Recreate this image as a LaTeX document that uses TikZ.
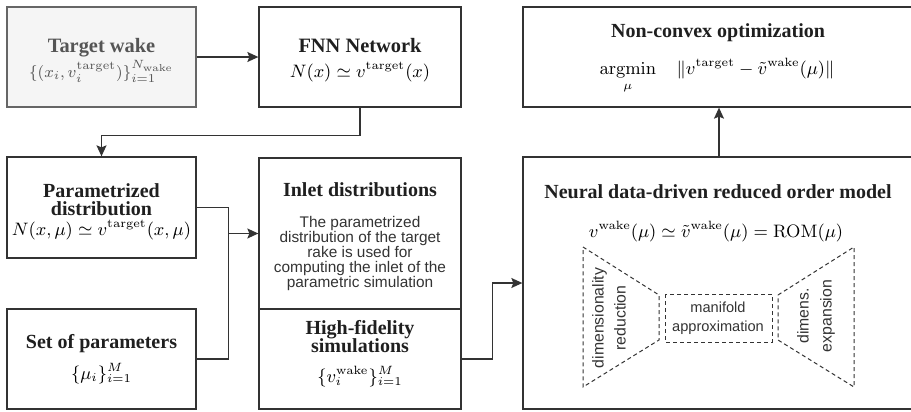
\documentclass[tikz,border=0pt]{standalone}
\usepackage{amsmath}
\usepackage[no-math]{fontspec}
\setmainfont{Liberation Serif}
\setsansfont{Liberation Sans}
\usetikzlibrary{arrows.meta}
\definecolor{edgec}{HTML}{333333}
\definecolor{fadedfill}{HTML}{F5F5F5}
\definecolor{fadededge}{HTML}{666666}
\definecolor{fadedtext}{HTML}{555555}
\definecolor{bodytext}{HTML}{333333}
\newcommand{\tsz}[1]{\fontsize{#1}{9}\selectfont\bfseries}
\newcommand{\msz}[1]{\fontsize{#1}{12}\selectfont}
\tikzset{
  box/.style={draw=edgec, line width=0.65pt, inner sep=0pt},
  ttl/.style={anchor=base, inner sep=0pt, font=\tsz{10}, text=black!88},
  mth/.style={anchor=base, inner sep=0pt, font=\msz{8.8}},
  body/.style={inner sep=0pt, align=center, text=bodytext, font=\sffamily\fontsize{7.7}{7.5}\selectfont},
  arr/.style={draw=edgec, line width=0.65pt, -{Stealth[length=5.5pt,width=5pt,inset=1pt]}},
  conn/.style={draw=edgec, line width=0.65pt},
  dsh/.style={draw=bodytext, line width=0.5pt, dash pattern=on 2pt off 1.5pt}
}
\begin{document}
\begin{tikzpicture}[x=0.5pt,y=-0.5pt]
\useasboundingbox (0,0) rectangle (911,412);
% boxes
\node[box, fill=fadedfill, draw=fadededge, minimum width=94.5pt, minimum height=50pt] (tw) at (101.5,57) {};
\node[box, minimum width=101pt, minimum height=50pt] (fnn) at (360,57) {};
\node[box, minimum width=94.5pt, minimum height=50.5pt] (pd) at (101.5,207.5) {};
\node[box, minimum width=101pt, minimum height=75.5pt] (inl) at (360,233.5) {};
\node[box, minimum width=101pt, minimum height=50pt] (hf) at (360,359) {};
\node[box, minimum width=94.5pt, minimum height=50pt] (sp) at (101.5,359) {};
\node[box, minimum width=196pt, minimum height=50pt] (nc) at (719,57) {};
\node[box, minimum width=196pt, minimum height=126pt] (rom) at (719,283) {};
% texts
\node[ttl, text=fadedtext, font=\tsz{10.2}] (twt) at (101.5,52) {Target wake};
\node[mth, text=fadedtext, font=\msz{8.3}] (twm) at (101.5,77) {$\{(x_i, v_i^{\mathrm{target}})\}_{i=1}^{N_{\mathrm{wake}}}$};
\node[ttl, font=\tsz{10.2}] (fnnt) at (360,52) {FNN Network};
\node[mth, font=\msz{8.6}] (fnnm) at (360,77) {$N(x) \simeq v^{\mathrm{target}}(x)$};
\node[ttl] (pdt1) at (101.5,197) {Parametrized};
\node[ttl] (pdt2) at (101.5,215) {distribution};
\node[mth] (pdm) at (101.5,235) {$N(x,\mu) \simeq v^{\mathrm{target}}(x,\mu)$};
\node[ttl] (inlt) at (360,196) {Inlet distributions};
\node[body] (inlb) at (360,254) {The parametrized\\distribution of the target\\rake is used for\\computing the inlet of the\\parametric simulation};
\node[ttl] (hft1) at (360,334) {High-fidelity};
\node[ttl] (hft2) at (360,352) {simulations};
\node[mth, font=\msz{9.2}] (hfm) at (360,382) {$\{v_i^{\mathrm{wake}}\}_{i=1}^{M}$};
\node[ttl] (spt) at (101.5,348) {Set of parameters};
\node[mth, font=\msz{9.2}] (spm) at (101.5,379) {$\{\mu_i\}_{i=1}^{M}$};
\node[ttl] (nct) at (718,37) {Non-convex optimization};
\node[mth, font=\msz{8.7}] (ncm) at (717,75) {$\displaystyle \mathop{\mathrm{argmin}}_{\mu}\quad \|v^{\mathrm{target}} - \tilde{v}^{\mathrm{wake}}(\mu)\|$};
\node[ttl] (romt) at (718,198) {Neural data-driven reduced order model};
\node[mth, font=\msz{9}] (romm) at (716,237) {$v^{\mathrm{wake}}(\mu) \simeq \tilde{v}^{\mathrm{wake}}(\mu) = \mathrm{ROM}(\mu)$};
% autoencoder sketch
\draw[dsh] (583,247) -- (659,295) -- (659,340) -- (583,387) -- cycle;
\draw[dsh] (665,294) rectangle (772,342);
\draw[dsh] (778,295) -- (854,247) -- (854,387) -- (778,340) -- cycle;
\node[body, rotate=90, font=\sffamily\fontsize{7.9}{11}\selectfont] (dr) at (609,318) {dimensionality\\reduction};
\node[body, font=\sffamily\fontsize{7.3}{9.5}\selectfont] (ma) at (718,318) {manifold\\approximation};
\node[body, rotate=90, font=\sffamily\fontsize{7.9}{11.5}\selectfont] (de) at (816,316) {dimens.\\expansion};
% connectors
\draw[arr] (tw.east) -- (fnn.west);
\draw[arr] (fnn.south) -- ++(0,28) -| (pd.north);
\draw[conn] (pd.east) -- ++(32,0) |- (sp.east);
\coordinate (j) at (228,233.5);
\draw[arr] (j) -- (inl.west);
\draw[arr] (hf.east) -- ++(31,0) |- (rom.west);
\draw[arr] (rom.north) -- (nc.south);
\end{tikzpicture}
\end{document}
